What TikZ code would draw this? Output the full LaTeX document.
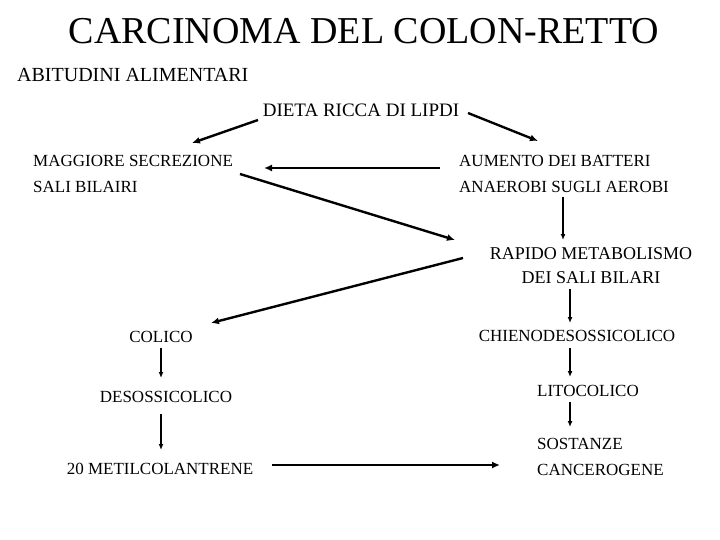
\documentclass[tikz,border=0pt]{standalone}
\usepackage{fontspec}
\setmainfont{Liberation Serif}
\usetikzlibrary{calc,arrows.meta}
\tikzset{
  txt/.style={inner sep=0pt,align=left,font=\fontsize{17}{26}\selectfont},
  big/.style={line width=2.4pt,-{Latex[length=8pt,width=7pt]}},
  small/.style={line width=1.3pt,-{Latex[length=6pt,width=5pt]}}
}
\begin{document}
\begin{tikzpicture}[x=1pt,y=-1pt]
      \useasboundingbox[fill=white] (0,0) rectangle (720,540);
      \node[inner sep=0pt,font=\fontsize{38}{40}\selectfont] (title) at (364,31) {CARCINOMA DEL COLON-RETTO};
      \node[txt,anchor=west,font=\fontsize{20}{24}\selectfont] (abit) at (17,75) {ABITUDINI ALIMENTARI};
      \node[txt,font=\fontsize{19}{22}\selectfont] (dieta) at (361,110) {DIETA RICCA DI LIPDI};
      \node[txt,anchor=west] (magg) at (33,174) {MAGGIORE SECREZIONE\\SALI BILAIRI};
      \node[txt,anchor=west] (aum) at (459,174) {AUMENTO DEI BATTERI\\ANAEROBI SUGLI AEROBI};
      \node[txt,align=center,font=\fontsize{18}{24}\selectfont] (rapido) at (591,266) {RAPIDO METABOLISMO\\DEI SALI BILARI};
      \node[txt] (colico) at (161,337) {COLICO};
      \node[txt] (chieno) at (577,336) {CHIENODESOSSICOLICO};
      \node[txt] (desossi) at (166,397) {DESOSSICOLICO};
      \node[txt] (lito) at (588,391) {LITOCOLICO};
      \node[txt] (metil) at (160,469) {20 METILCOLANTRENE};
      \node[txt,anchor=west] (sost) at (537,457) {SOSTANZE\\CANCEROGENE};
      % diagonal and horizontal links
      \draw[big] ($(dieta)+(-103,10)$) -- ($(magg.west)+(159,-31)$);
      \draw[big] ($(dieta)+(107,3)$) -- ($(aum.west)+(79,-33)$);
      \draw[big] ($(aum.west)+(-19,-6)$) -- ($(magg.west)+(231,-6)$);
      \draw[big] ($(magg.west)+(207,0)$) -- ($(rapido)+(-136,-26)$);
      \draw[big] ($(rapido)+(-128,-8)$) -- ($(colico)+(50,-14)$);
      \draw[big] ($(metil)+(112,-4)$) -- ($(sost.west)+(-37,8)$);
      % vertical links
      \draw[small] ($(aum.west)+(104,23)$) -- ($(rapido)+(-28,-26)$);
      \draw[small] ($(rapido)+(-21,23)$) -- ($(chieno)+(-7,-13)$);
      \draw[small] ($(chieno)+(-7,12)$) -- ($(lito)+(-18,-14)$);
      \draw[small] ($(lito)+(-18,11)$) -- ($(sost.west)+(33,-30)$);
      \draw[small] ($(colico)+(0,11)$) -- ($(desossi)+(-5,-19)$);
      \draw[small] ($(desossi)+(-5,17)$) -- ($(metil)+(1,-19)$);
\end{tikzpicture}
\end{document}
